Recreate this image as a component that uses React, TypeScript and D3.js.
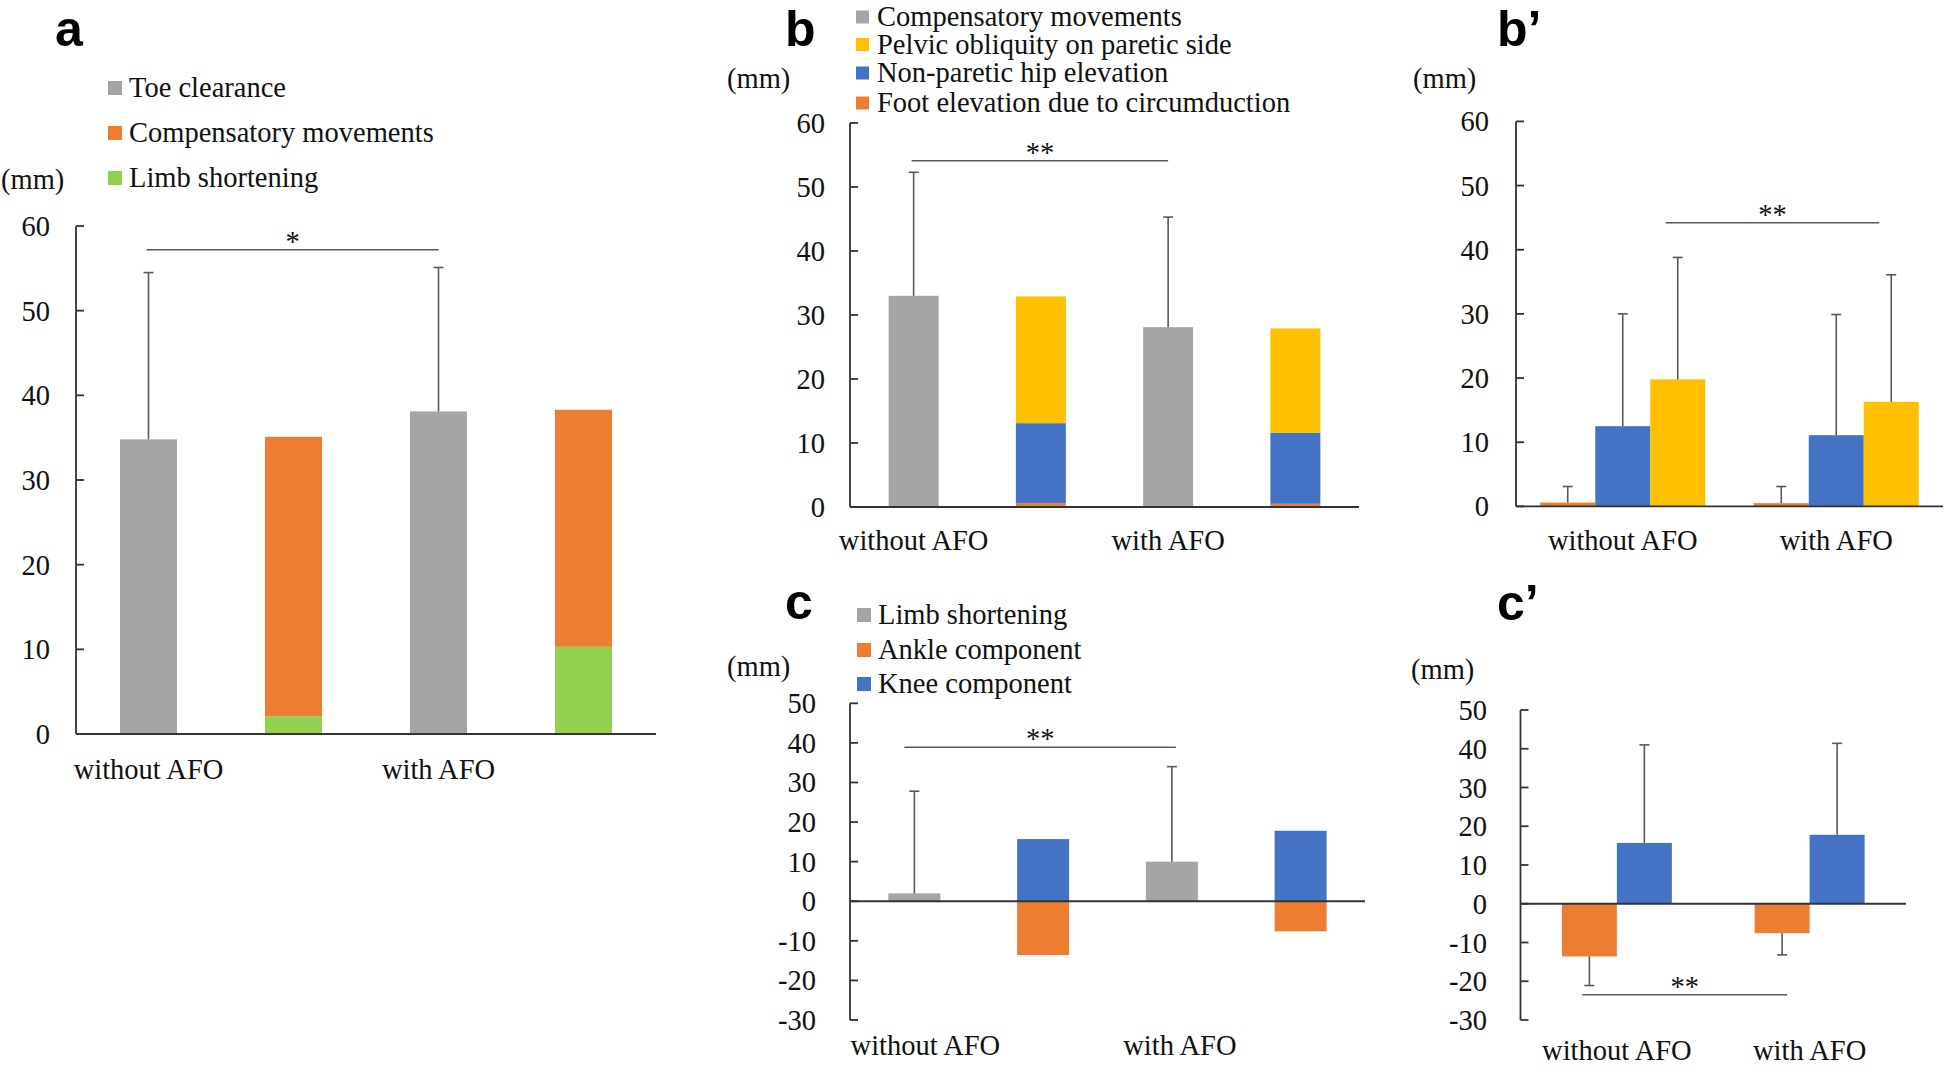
import React from "react";
import * as d3 from "d3";

// ---------- data ----------
const categories = ["without AFO", "with AFO"];

// Panel a
const aLegend = ["Toe clearance", "Compensatory movements", "Limb shortening"];
const aToeClearance = [34.8, 38.1];
const aToeClearanceSD = [19.7, 17.0];
const aCompensatory = [33.0, 28.0];
const aLimbShortening = [2.1, 10.3];

// Panel b / b'
const bLegend = [
  "Compensatory movements",
  "Pelvic obliquity on paretic side",
  "Non-paretic hip elevation",
  "Foot elevation due to circumduction",
];
const bCompensatory = [33.0, 28.1];
const bCompensatorySD = [19.3, 17.2];
const bFootCircumduction = [0.6, 0.5];
const bHipElevation = [12.5, 11.1];
const bPelvicObliquity = [19.8, 16.3];
const bFootSD = [2.5, 2.6];
const bHipSD = [17.5, 18.8];
const bPelvicSD = [19.0, 19.8];

// Panel c / c'
const cLegend = ["Limb shortening", "Ankle component", "Knee component"];
const cLimbShortening = [2.0, 10.0];
const cLimbSD = [25.8, 24.0];
const cAnkle = [-13.6, -7.6];
const cKnee = [15.7, 17.8];
const cAnkleSD = [7.5, 5.6];
const cKneeSD = [25.3, 23.6];

const ticks60 = [0, 10, 20, 30, 40, 50, 60];
const ticksC = [-30, -20, -10, 0, 10, 20, 30, 40, 50];

// ---------- style ----------
const GRAY = "#A5A5A5";
const ORANGE = "#ED7D31";
const GREEN = "#92D050";
const YELLOW = "#FFC000";
const BLUE = "#4472C4";
const ERR = "#595959";
const AXIS = "#333333";
const SERIF = '"Liberation Serif", "Times New Roman", serif';
const SANS = '"Liberation Sans", Arial, sans-serif';
const FS = 28.5;

type Bar = { x: number; w: number; v0: number; v1: number; color: string };
type Err = { x: number; v0: number; v1: number };

function Panel(props: {
  y: d3.ScaleLinear<number, number>;
  ticks: number[];
  axisX: number;
  xEnd: number;
  tickRight: number;
  bars: Bar[];
  errs: Err[];
  catX: number[];
  catY: number;
  mmX: number;
  mmY: number;
  sig: { x0: number; x1: number; v: number; text: string };
  label: string;
  labelX: number;
  labelY: number;
}) {
  const { y, ticks } = props;
  const [dMin, dMax] = y.domain();
  return (
    <g>
      <text x={props.labelX} y={props.labelY} fontFamily={SANS} fontWeight="bold" fontSize={50} fill="#000">
        {props.label}
      </text>
      <text x={props.mmX} y={props.mmY} fontFamily={SERIF} fontSize={FS} fill="#111">
        (mm)
      </text>
      {props.bars.map((b, i) => (
        <rect
          key={"b" + i}
          x={b.x}
          width={b.w}
          y={Math.min(y(b.v0), y(b.v1))}
          height={Math.abs(y(b.v0) - y(b.v1))}
          fill={b.color}
        />
      ))}
      {props.errs.map((e, i) => (
        <g key={"e" + i} stroke={ERR} strokeWidth={1.6}>
          <line x1={e.x} x2={e.x} y1={y(e.v0)} y2={y(e.v1)} />
          <line x1={e.x - 5} x2={e.x + 5} y1={y(e.v1)} y2={y(e.v1)} />
        </g>
      ))}
      <line x1={props.axisX} x2={props.axisX} y1={y(dMax)} y2={y(dMin)} stroke={AXIS} strokeWidth={1.8} />
      {ticks.map((t) => (
        <g key={"t" + t}>
          <line x1={props.axisX} x2={props.axisX + 8} y1={y(t)} y2={y(t)} stroke={AXIS} strokeWidth={1.8} />
          <text
            x={props.tickRight}
            y={y(t) + 10}
            textAnchor="end"
            fontFamily={SERIF}
            fontSize={FS}
            fill="#111"
          >
            {t}
          </text>
        </g>
      ))}
      <line x1={props.axisX} x2={props.xEnd} y1={y(0)} y2={y(0)} stroke={AXIS} strokeWidth={1.8} />
      {categories.map((c, i) => (
        <text
          key={"c" + i}
          x={props.catX[i]}
          y={props.catY}
          textAnchor="middle"
          fontFamily={SERIF}
          fontSize={FS}
          fill="#111"
        >
          {c}
        </text>
      ))}
      <line
        x1={props.sig.x0}
        x2={props.sig.x1}
        y1={y(props.sig.v)}
        y2={y(props.sig.v)}
        stroke={ERR}
        strokeWidth={1.6}
      />
      <text
        x={(props.sig.x0 + props.sig.x1) / 2}
        y={y(props.sig.v) + 1}
        textAnchor="middle"
        fontFamily={SERIF}
        fontSize={FS}
        fill="#111"
      >
        {props.sig.text}
      </text>
    </g>
  );
}

function Legend(props: { items: string[]; colors: string[]; x: number; ys: number[]; size: number; textX: number }) {
  return (
    <g>
      {props.items.map((t, i) => (
        <g key={i}>
          <rect
            x={props.x}
            y={props.ys[i] - props.size / 2}
            width={props.size}
            height={props.size}
            fill={props.colors[i]}
          />
          <text x={props.textX} y={props.ys[i] + 9} fontFamily={SERIF} fontSize={FS} fill="#111">
            {t}
          </text>
        </g>
      ))}
    </g>
  );
}

export default function App() {
  // ----- Panel a -----
  const axA = d3.scaleBand<number>().domain([0, 1, 2, 3]).range([76, 656]);
  const ayA = d3.scaleLinear().domain([0, 60]).range([734, 226]);
  const bwA = 57;
  const cA = (s: number) => (axA(s) as number) + axA.bandwidth() / 2;
  const barsA: Bar[] = [];
  const errsA: Err[] = [];
  categories.forEach((_, i) => {
    barsA.push({ x: cA(2 * i) - bwA / 2, w: bwA, v0: 0, v1: aToeClearance[i], color: GRAY });
    errsA.push({ x: cA(2 * i), v0: aToeClearance[i], v1: aToeClearance[i] + aToeClearanceSD[i] });
    barsA.push({ x: cA(2 * i + 1) - bwA / 2, w: bwA, v0: 0, v1: aLimbShortening[i], color: GREEN });
    barsA.push({
      x: cA(2 * i + 1) - bwA / 2,
      w: bwA,
      v0: aLimbShortening[i],
      v1: aLimbShortening[i] + aCompensatory[i],
      color: ORANGE,
    });
  });

  // ----- Panel b -----
  const axB = d3.scaleBand<number>().domain([0, 1, 2, 3]).range([850, 1359]);
  const ayB = d3.scaleLinear().domain([0, 60]).range([507, 123]);
  const bwB = 50;
  const cB = (s: number) => (axB(s) as number) + axB.bandwidth() / 2;
  const barsB: Bar[] = [];
  const errsB: Err[] = [];
  categories.forEach((_, i) => {
    barsB.push({ x: cB(2 * i) - bwB / 2, w: bwB, v0: 0, v1: bCompensatory[i], color: GRAY });
    errsB.push({ x: cB(2 * i), v0: bCompensatory[i], v1: bCompensatory[i] + bCompensatorySD[i] });
    const s1 = bFootCircumduction[i];
    const s2 = s1 + bHipElevation[i];
    const s3 = s2 + bPelvicObliquity[i];
    barsB.push({ x: cB(2 * i + 1) - bwB / 2, w: bwB, v0: 0, v1: s1, color: ORANGE });
    barsB.push({ x: cB(2 * i + 1) - bwB / 2, w: bwB, v0: s1, v1: s2, color: BLUE });
    barsB.push({ x: cB(2 * i + 1) - bwB / 2, w: bwB, v0: s2, v1: s3, color: YELLOW });
  });

  // ----- Panel b' -----
  const axBp = d3.scaleBand<string>().domain(categories).range([1516, 1943]);
  const ayBp = d3.scaleLinear().domain([0, 60]).range([506.4, 121.4]);
  const bwBp = 55;
  const seriesBp = [
    { v: bFootCircumduction, sd: bFootSD, color: ORANGE },
    { v: bHipElevation, sd: bHipSD, color: BLUE },
    { v: bPelvicObliquity, sd: bPelvicSD, color: YELLOW },
  ];
  const barsBp: Bar[] = [];
  const errsBp: Err[] = [];
  const centersBp: number[] = [];
  categories.forEach((c, i) => {
    const center = (axBp(c) as number) + axBp.bandwidth() / 2;
    centersBp.push(center);
    const inner = d3
      .scaleBand<number>()
      .domain(d3.range(seriesBp.length))
      .range([center - (bwBp * seriesBp.length) / 2, center + (bwBp * seriesBp.length) / 2]);
    seriesBp.forEach((s, k) => {
      const x = inner(k) as number;
      barsBp.push({ x, w: bwBp, v0: 0, v1: s.v[i], color: s.color });
      errsBp.push({ x: x + bwBp / 2, v0: s.v[i], v1: s.v[i] + s.sd[i] });
    });
  });

  // ----- Panel c -----
  const axC = d3.scaleBand<number>().domain([0, 1, 2, 3]).range([850, 1365]);
  const ayC = d3.scaleLinear().domain([-30, 50]).range([1020, 703.3]);
  const bwC = 52;
  const cC = (s: number) => (axC(s) as number) + axC.bandwidth() / 2;
  const barsC: Bar[] = [];
  const errsC: Err[] = [];
  categories.forEach((_, i) => {
    barsC.push({ x: cC(2 * i) - bwC / 2, w: bwC, v0: 0, v1: cLimbShortening[i], color: GRAY });
    errsC.push({ x: cC(2 * i), v0: cLimbShortening[i], v1: cLimbShortening[i] + cLimbSD[i] });
    barsC.push({ x: cC(2 * i + 1) - bwC / 2, w: bwC, v0: 0, v1: cKnee[i], color: BLUE });
    barsC.push({ x: cC(2 * i + 1) - bwC / 2, w: bwC, v0: 0, v1: cAnkle[i], color: ORANGE });
  });

  // ----- Panel c' -----
  const axCp = d3.scaleBand<string>().domain(categories).range([1520.5, 1906]);
  const ayCp = d3.scaleLinear().domain([-30, 50]).range([1020, 710]);
  const bwCp = 55;
  const seriesCp = [
    { v: cAnkle, sd: cAnkleSD, color: ORANGE },
    { v: cKnee, sd: cKneeSD, color: BLUE },
  ];
  const barsCp: Bar[] = [];
  const errsCp: Err[] = [];
  const ankleCp: number[] = [];
  categories.forEach((c, i) => {
    const center = (axCp(c) as number) + axCp.bandwidth() / 2;
    const inner = d3
      .scaleBand<number>()
      .domain(d3.range(seriesCp.length))
      .range([center - (bwCp * seriesCp.length) / 2, center + (bwCp * seriesCp.length) / 2]);
    seriesCp.forEach((s, k) => {
      const x = inner(k) as number;
      barsCp.push({ x, w: bwCp, v0: 0, v1: s.v[i], color: s.color });
      const sign = s.v[i] < 0 ? -1 : 1;
      errsCp.push({ x: x + bwCp / 2, v0: s.v[i], v1: s.v[i] + sign * s.sd[i] });
      if (k === 0) ankleCp.push(x + bwCp / 2);
    });
  });

  return (
    <svg
      width={1946}
      height={1066}
      viewBox="0 0 1946 1066"
      style={{ position: "absolute", left: 0, top: 0, background: "#fff" }}
    >
      <rect width={1946} height={1066} fill="#fff" />
      <Legend items={aLegend} colors={[GRAY, ORANGE, GREEN]} x={108} ys={[88, 133, 178]} size={14} textX={129} />
      <Panel
        y={ayA}
        ticks={ticks60}
        axisX={76}
        xEnd={656}
        tickRight={50}
        bars={barsA}
        errs={errsA}
        catX={[cA(0), cA(2)]}
        catY={779}
        mmX={1}
        mmY={189}
        sig={{ x0: cA(0) - 2, x1: cA(2), v: 57.2, text: "*" }}
        label="a"
        labelX={55}
        labelY={46}
      />
      <Legend
        items={bLegend}
        colors={[GRAY, YELLOW, BLUE, ORANGE]}
        x={856}
        ys={[17, 44.5, 73, 103]}
        size={13}
        textX={877}
      />
      <Panel
        y={ayB}
        ticks={ticks60}
        axisX={850}
        xEnd={1359}
        tickRight={825}
        bars={barsB}
        errs={errsB}
        catX={[cB(0), cB(2)]}
        catY={550}
        mmX={727}
        mmY={88}
        sig={{ x0: cB(0) - 2, x1: cB(2), v: 54.1, text: "**" }}
        label="b"
        labelX={785}
        labelY={46}
      />
      <Panel
        y={ayBp}
        ticks={ticks60}
        axisX={1516}
        xEnd={1943}
        tickRight={1489}
        bars={barsBp}
        errs={errsBp}
        catX={centersBp}
        catY={550}
        mmX={1413}
        mmY={88}
        sig={{ x0: centersBp[0] + bwBp - 12, x1: centersBp[1] + bwBp - 12, v: 44.2, text: "**" }}
        label={"b\u2019"}
        labelX={1497}
        labelY={46}
      />
      <Legend
        items={cLegend}
        colors={[GRAY, ORANGE, BLUE]}
        x={857}
        ys={[615, 650, 684]}
        size={14}
        textX={878}
      />
      <Panel
        y={ayC}
        ticks={ticksC}
        axisX={850}
        xEnd={1365}
        tickRight={816}
        bars={barsC}
        errs={errsC}
        catX={[cC(0) + 11, cC(2) + 8]}
        catY={1055}
        mmX={727}
        mmY={676}
        sig={{ x0: cC(0) - 10, x1: cC(2) + 4, v: 38.9, text: "**" }}
        label="c"
        labelX={785}
        labelY={619}
      />
      <Panel
        y={ayCp}
        ticks={ticksC}
        axisX={1520.5}
        xEnd={1906}
        tickRight={1487}
        bars={barsCp}
        errs={errsCp}
        catX={[
          (axCp(categories[0]) as number) + axCp.bandwidth() / 2,
          (axCp(categories[1]) as number) + axCp.bandwidth() / 2,
        ]}
        catY={1060}
        mmX={1411}
        mmY={679}
        sig={{ x0: ankleCp[0] - 7, x1: ankleCp[1] + 5, v: -23.5, text: "**" }}
        label={"c\u2019"}
        labelX={1497}
        labelY={620}
      />
    </svg>
  );
}
